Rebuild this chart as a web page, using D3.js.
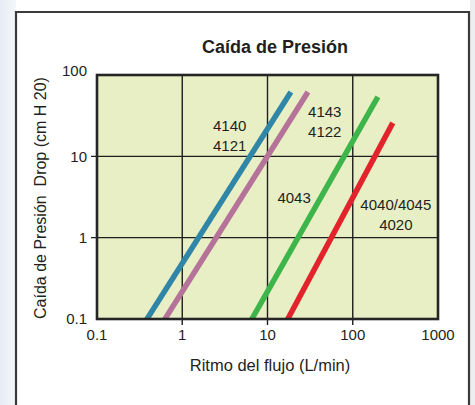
<!DOCTYPE html>
<html><head><meta charset="utf-8">
<script src="https://cdn.jsdelivr.net/npm/d3@7"></script>
<style>
body{margin:0;background:#fff;}
svg{display:block;font-family:"Liberation Sans",Arial,Helvetica,sans-serif;}
text{white-space:pre;}
</style></head>
<body><svg id="c" width="475" height="405"></svg>
<script>
// Data
const series = ["4140/4121", "4143/4122", "4043", "4040/4045/4020"];
const flowStart = [0.386, 0.627, 6.56, 17.3];
const dropStart = [0.1, 0.1, 0.1, 0.1];
const flowEnd = [18.8, 29.8, 197, 295];
const dropEnd = [61.7, 61.7, 53.8, 25.8];
const colors = ["#2f86a6", "#b5739a", "#3db54a", "#e3232b"];
const xTicks = [0.1, 1, 10, 100, 1000];
const xTickLabels = ["0.1", "1", "10", "100", "1000"];
const yTicks = [0.1, 1, 10, 100];
const yTickLabels = ["0.1", "1", "10", "100"];
const labelLines = [["4140", "4121"], ["4143", "4122"], ["4043"], ["4040/4045", "4020"]];
const labelFlow = [3.6, 47, 20.5, 320];
const labelDrop = [20.5, 30.5, 2.67, 2.19];

const svg = d3.select("#c");
const ink = "#231f20";
// background panels
const defs = svg.append("defs");
const g1 = defs.append("linearGradient").attr("id","lg").attr("x1","0").attr("x2","1");
g1.append("stop").attr("offset","0").attr("stop-color","#e6edf4");
g1.append("stop").attr("offset","1").attr("stop-color","#f4f7fa");
svg.append("rect").attr("x",0).attr("y",0).attr("width",16).attr("height",405).attr("fill","url(#lg)");
svg.append("rect").attr("x",470).attr("y",0).attr("width",5).attr("height",405).attr("fill","#eceef0");
svg.append("path").attr("d","M16,406 V12 H469 V406").attr("fill","none").attr("stroke","#3a3a3a").attr("stroke-width",2.2);

const L = 97, R = 438, T = 75, B = 319;
const x = d3.scaleLog().domain([0.1, 1000]).range([L, R]);
const y = d3.scaleLog().domain([0.1, 100]).range([B, T]);

svg.append("rect").attr("x",L).attr("y",T).attr("width",R-L).attr("height",B-T).attr("fill","#e9efc5");

// grid
const grid = svg.append("g").attr("stroke","#1e1e1e").attr("stroke-width",1.4);
xTicks.slice(1,-1).forEach(v => grid.append("line").attr("x1",x(v)).attr("x2",x(v)).attr("y1",T).attr("y2",B+6));
yTicks.slice(1,-1).forEach(v => grid.append("line").attr("y1",y(v)).attr("y2",y(v)).attr("x1",L-6).attr("x2",R));

// lines
defs.append("clipPath").attr("id","clip").append("rect").attr("x",L).attr("y",T-20).attr("width",R-L).attr("height",B-T+20);
const lg = svg.append("g").attr("clip-path","url(#clip)");
series.forEach((s,i)=>{
  const x0 = x(flowStart[i]), y0 = y(dropStart[i]), x1 = x(flowEnd[i]), y1 = y(dropEnd[i]);
  const len = Math.hypot(x1-x0, y1-y0), ux=(x1-x0)/len, uy=(y1-y0)/len;
  lg.append("line").attr("x1",x0-ux*6).attr("y1",y0-uy*6).attr("x2",x1).attr("y2",y1)
    .attr("stroke",colors[i]).attr("stroke-width",5.5).attr("stroke-linecap","butt");
});

// frame
svg.append("rect").attr("x",L).attr("y",T).attr("width",R-L).attr("height",B-T).attr("fill","none").attr("stroke","#252525").attr("stroke-width",2.6);

// tick labels
const tl = svg.append("g").attr("font-size",15).attr("fill",ink);
xTicks.forEach((v,i)=> tl.append("text").attr("x",x(v)).attr("y",340).attr("text-anchor","middle").text(xTickLabels[i]));
yTicks.forEach((v,i)=> tl.append("text").attr("x",87).attr("y",y(v)+(i===3?-4:0)).attr("dy","0.36em").attr("text-anchor","end").text(yTickLabels[i]));

// series labels
labelLines.forEach((lines,i)=>{
  const t = svg.append("text").attr("font-size",15).attr("fill",ink).attr("text-anchor","middle");
  lines.forEach((ln,j)=> t.append("tspan").attr("x",x(labelFlow[i])).attr("y",y(labelDrop[i])+j*20.5).text(ln));
});

// titles
svg.append("text").attr("x",275).attr("y",53).attr("text-anchor","middle").attr("font-size",18).attr("font-weight","bold").attr("fill",ink).text("Caída de Presión");
svg.append("text").attr("x",270).attr("y",371).attr("text-anchor","middle").attr("font-size",16.5).attr("fill",ink).text("Ritmo del flujo (L/min)");
svg.append("text").attr("transform","translate(46,198) rotate(-90)").attr("text-anchor","middle").attr("font-size",16).attr("fill",ink).text("Caída de Presión  Drop (cm H 20)");
</script></body></html>
